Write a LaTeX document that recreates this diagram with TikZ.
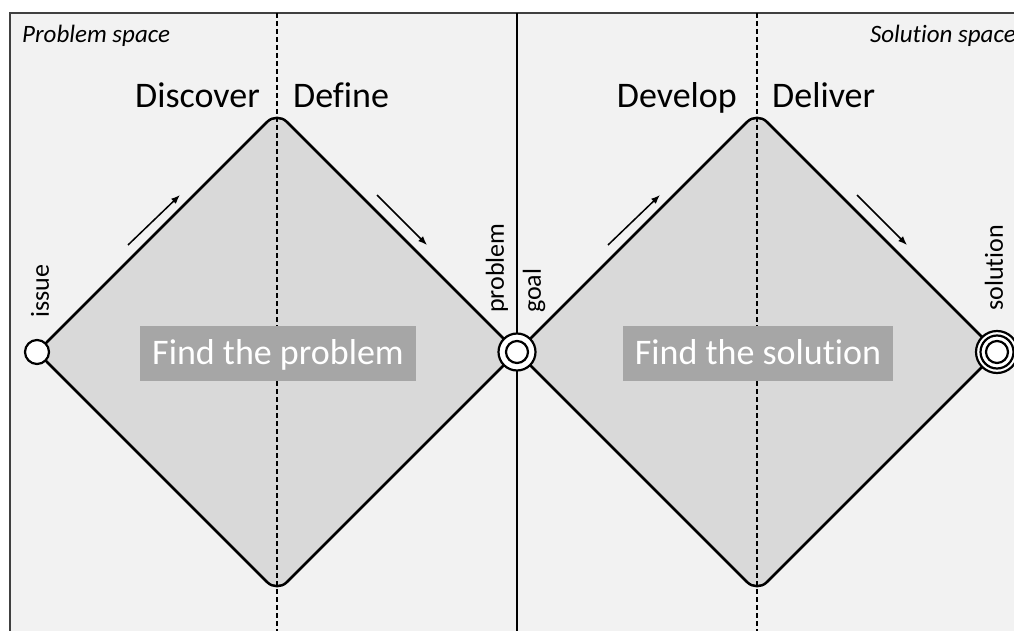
\documentclass[tikz,border=0pt]{standalone}
\usepackage{fontspec}
\setmainfont{Carlito}[Ligatures={NoCommon}]
\usepackage{tikz}
\usetikzlibrary{arrows.meta, positioning, calc}
\definecolor{spacegray}{RGB}{242,242,242}
\definecolor{diamondgray}{RGB}{217,217,217}
\definecolor{bannergray}{RGB}{166,166,166}
\definecolor{framegray}{RGB}{64,64,64}

\begin{document}
\begin{tikzpicture}[
    x=1pt, y=-1pt,
    phase/.style={font=\fontsize{36}{40}\selectfont, inner sep=0pt},
    spacelbl/.style={font=\fontsize{25}{30}\selectfont\itshape, inner sep=0pt},
    banner/.style={fill=bannergray, text=white, font=\fontsize{36}{40}\selectfont, inner xsep=12pt, inner ysep=0pt, text height=29pt, text depth=6pt, minimum height=55pt},
    tag/.style={rotate=90, anchor=west, inner sep=0pt, font=\fontsize{26}{30}\selectfont},
    ring/.style={circle, draw, line width=2.2pt, fill=white, inner sep=0pt},
    diamondpath/.style={draw, fill=diamondgray, line width=2.5pt, rounded corners=14pt},
    divider/.style={line width=1.8pt, dash pattern=on 5pt off 3pt},
    arrow/.style={-{Latex[length=9pt, width=7pt]}, line width=1.5pt}
]
    \useasboundingbox (0,0) rectangle (1014,631);

    % Frame
    \fill[spacegray] (10,13) rectangle (1014,631);
    \draw[framegray, line width=2pt] (10,631) -- (10,13) -- (1014,13);

    % Diamond corners
    \coordinate (issuept) at (37,352);
    \coordinate (midpt) at (517,352);
    \coordinate (solpt) at (997,352);
    \coordinate (top1) at (277,112);
    \coordinate (bot1) at (277,592);
    \coordinate (top2) at (757,112);
    \coordinate (bot2) at (757,592);

    % Diamonds
    \path[diamondpath] (issuept) -- (top1) -- (midpt) -- (bot1) -- cycle;
    \path[diamondpath] (midpt) -- (top2) -- (solpt) -- (bot2) -- cycle;

    % Dividers
    \draw[divider] (277,13) -- (277,631);
    \draw[divider] (757,13) -- (757,631);
    \draw[line width=2pt] (517,13) -- (517,631);

    % Milestones
    \node[ring, minimum size=24pt] (issue) at (issuept) {};
    \node[ring, minimum size=37pt] (problem) at (midpt) {};
    \node[ring, minimum size=22pt] (goal) at (midpt) {};
    \node[ring, minimum size=42pt] (solution) at (solpt) {};
    \node[ring, minimum size=33pt] (solution-mid) at (solpt) {};
    \node[ring, minimum size=22pt] (solution-in) at (solpt) {};

    % Milestone labels
    \node[tag] (issue-lbl) at (40,318) {issue};
    \node[tag] (problem-lbl) at (497,313) {problem};
    \node[tag] (goal-lbl) at (534,313) {goal};
    \node[tag] (solution-lbl) at (994,311) {solution};

    % Banners
    \node[banner] (findprob) at (278,353) {Find the problem};
    \node[banner] (findsol) at (758,353) {Find the solution};

    % Phases
    \node[phase, anchor=base east] (discover) at (260,108) {Discover};
    \node[phase, anchor=base west] (define) at (293,108) {Define};
    \node[phase, anchor=base east] (develop) at (737,108) {Develop};
    \node[phase, anchor=base west] (deliver) at (772,108) {Deliver};

    % Spaces
    \node[spacelbl, anchor=base west] (probspace) at (22,43) {Problem space};
    \node[spacelbl, anchor=base east] (solspace) at (1016,43) {Solution space};

    % Flow arrows
    \coordinate (a1s) at (128,245);
    \coordinate (a1e) at (180,195);
    \coordinate (a2s) at (377,195);
    \coordinate (a2e) at (427,245);
    \coordinate (a3s) at (608,245);
    \coordinate (a3e) at (660,195);
    \coordinate (a4s) at (857,195);
    \coordinate (a4e) at (907,245);
    \draw[arrow] (a1s) -- (a1e);
    \draw[arrow] (a2s) -- (a2e);
    \draw[arrow] (a3s) -- (a3e);
    \draw[arrow] (a4s) -- (a4e);
\end{tikzpicture}
\end{document}
